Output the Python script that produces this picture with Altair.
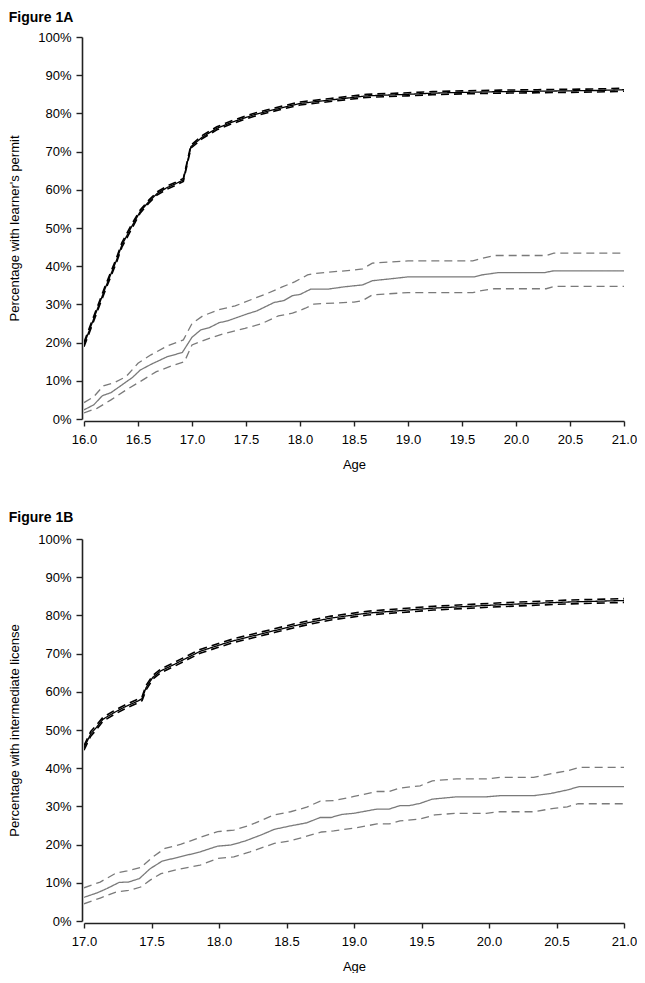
import altair as alt
import pandas as pd

# ---------------- Figure 1A data (age in years, percent) ----------------
A_age_black = [16.0, 16.1, 16.2, 16.3, 16.35, 16.44, 16.52, 16.6, 16.68, 16.77, 16.85, 16.92, 16.99,
               17.1, 17.23, 17.38, 17.57, 17.69, 17.88, 18.0, 18.28, 18.62, 19.0, 19.23, 19.5, 19.85,
               20.2, 20.46, 20.75, 21.0]
A_black = [19.5, 27.0, 34.5, 41.5, 45.5, 50.3, 54.3, 56.9, 59.1, 60.6, 61.6, 62.6, 71.3,
           73.9, 76.1, 77.8, 79.6, 80.5, 81.8, 82.6, 83.5, 84.6, 85.0, 85.3, 85.5, 85.7,
           85.8, 85.9, 86.0, 86.2]
A_black_hi = [20.1, 27.6, 35.1, 42.1, 46.1, 50.9, 54.7, 57.3, 59.5, 61.0, 62.0, 63.0, 71.7,
              74.3, 76.5, 78.2, 80.0, 80.9, 82.2, 83.0, 83.9, 85.0, 85.4, 85.7, 85.9, 86.1,
              86.2, 86.3, 86.4, 86.6]
A_black_lo = [18.9, 26.4, 33.9, 40.9, 44.9, 49.7, 53.9, 56.5, 58.7, 60.2, 61.2, 62.2, 70.9,
              73.5, 75.7, 77.4, 79.2, 80.1, 81.4, 82.2, 83.1, 84.2, 84.6, 84.9, 85.1, 85.3,
              85.4, 85.5, 85.6, 85.8]

A_age_gray = [16.0, 16.09, 16.17, 16.25, 16.37, 16.45, 16.52, 16.62, 16.77, 16.91, 17.0, 17.08,
              17.16, 17.25, 17.33, 17.51, 17.6, 17.76, 17.85, 17.93, 18.0, 18.1, 18.26, 18.41,
              18.58, 18.67, 18.84, 19.0, 19.61, 19.68, 19.83, 20.26, 20.35, 21.0]
A_gray = [2.4, 3.7, 6.1, 6.9, 9.3, 10.9, 12.8, 14.3, 16.3, 17.4, 21.4, 23.3,
          23.9, 25.2, 25.7, 27.5, 28.3, 30.5, 31.0, 32.3, 32.6, 34.0, 34.0, 34.6,
          35.1, 36.2, 36.7, 37.2, 37.2, 37.7, 38.3, 38.3, 38.8, 38.8]

A_age_gray_hi = [16.0, 16.09, 16.18, 16.28, 16.39, 16.5, 16.62, 16.77, 16.92, 17.0, 17.1, 17.26,
                 17.4, 17.58, 17.7, 17.83, 17.95, 18.07, 18.13, 18.5, 18.58, 18.67, 19.0, 19.6,
                 19.68, 19.8, 20.28, 20.35, 21.0]
A_gray_hi = [4.3, 5.8, 8.7, 9.5, 11.1, 14.6, 16.8, 19.1, 20.7, 25.0, 27.0, 28.7,
             29.6, 31.6, 32.9, 34.5, 35.9, 37.7, 38.1, 39.0, 39.3, 40.8, 41.4, 41.4,
             42.0, 42.8, 42.8, 43.4, 43.4]

A_age_gray_lo = [16.0, 16.12, 16.25, 16.39, 16.52, 16.67, 16.83, 16.93, 17.0, 17.16, 17.3, 17.49,
                 17.64, 17.8, 17.93, 18.05, 18.13, 18.5, 18.58, 18.67, 19.0, 19.6, 19.68, 19.8,
                 20.28, 20.35, 21.0]
A_gray_lo = [1.6, 2.8, 5.0, 7.6, 9.8, 12.4, 14.1, 15.0, 19.4, 21.1, 22.4, 23.7,
             24.9, 27.0, 27.7, 29.0, 30.1, 30.6, 31.0, 32.5, 33.1, 33.1, 33.6, 34.1,
             34.1, 34.7, 34.7]

# ---------------- Figure 1B data ----------------
B_age_black = [17.0, 17.05, 17.09, 17.14, 17.22, 17.3, 17.4, 17.43, 17.46, 17.51, 17.57, 17.67,
               17.77, 17.86, 17.99, 18.11, 18.26, 18.41, 18.56, 18.7, 18.83, 19.1, 19.59, 20.09,
               20.58, 21.0]
B_black = [45.3, 49.0, 50.6, 52.8, 54.5, 56.0, 57.6, 58.2, 61.1, 63.8, 65.5, 67.2,
           69.0, 70.6, 72.1, 73.4, 74.7, 76.0, 77.3, 78.4, 79.3, 80.6, 81.9, 82.8,
           83.5, 83.9]
B_black_hi = [45.9, 49.6, 51.2, 53.3, 55.0, 56.5, 58.1, 58.7, 61.7, 64.3, 66.0, 67.7,
              69.5, 71.1, 72.6, 73.9, 75.2, 76.5, 77.8, 78.9, 79.8, 81.1, 82.4, 83.3,
              84.0, 84.4]
B_black_lo = [44.7, 48.4, 50.0, 52.3, 54.0, 55.5, 57.1, 57.7, 60.5, 63.3, 65.0, 66.7,
              68.5, 70.1, 71.6, 72.9, 74.2, 75.5, 76.8, 77.9, 78.8, 80.1, 81.4, 82.3,
              83.0, 83.4]

B_age_gray = [17.0, 17.1, 17.17, 17.26, 17.33, 17.41, 17.49, 17.58, 17.69, 17.86, 17.99, 18.09,
              18.19, 18.31, 18.41, 18.53, 18.65, 18.75, 18.83, 18.91, 19.0, 19.17, 19.26, 19.34,
              19.41, 19.49, 19.58, 19.76, 19.98, 20.08, 20.33, 20.46, 20.58, 20.67, 21.0]
B_gray = [6.2, 7.4, 8.5, 10.1, 10.2, 11.1, 13.7, 15.7, 16.6, 18.1, 19.6, 19.9,
          20.9, 22.5, 24.0, 24.9, 25.7, 27.1, 27.1, 27.9, 28.2, 29.3, 29.3, 30.2,
          30.2, 30.8, 31.9, 32.5, 32.5, 32.8, 32.8, 33.4, 34.3, 35.2, 35.2]

B_age_gray_hi = [17.0, 17.12, 17.24, 17.32, 17.42, 17.51, 17.6, 17.72, 17.86, 17.99, 18.11, 18.23,
                 18.41, 18.53, 18.65, 18.75, 18.85, 19.0, 19.17, 19.26, 19.34, 19.49, 19.58, 19.76,
                 19.98, 20.08, 20.33, 20.48, 20.58, 20.67, 21.0]
B_gray_hi = [8.7, 10.2, 12.6, 13.1, 14.0, 16.8, 19.0, 20.1, 21.9, 23.4, 23.8, 25.1,
             27.8, 28.6, 29.8, 31.4, 31.5, 32.6, 33.9, 33.9, 34.8, 35.4, 36.7, 37.2,
             37.2, 37.6, 37.6, 38.7, 39.3, 40.2, 40.2]

B_age_gray_lo = [17.0, 17.12, 17.24, 17.33, 17.42, 17.49, 17.57, 17.69, 17.86, 17.99, 18.11, 18.23,
                 18.41, 18.53, 18.65, 18.76, 18.85, 19.0, 19.17, 19.26, 19.34, 19.49, 19.6, 19.76,
                 19.98, 20.08, 20.33, 20.48, 20.58, 20.66, 21.0]
B_gray_lo = [4.5, 6.0, 7.6, 8.0, 8.9, 10.7, 12.4, 13.5, 14.6, 16.4, 16.8, 18.1,
             20.3, 21.0, 22.2, 23.3, 23.6, 24.3, 25.4, 25.4, 26.2, 26.7, 27.8, 28.2,
             28.2, 28.6, 28.6, 29.5, 29.9, 30.7, 30.7]

A_xticks = [16.0, 16.5, 17.0, 17.5, 18.0, 18.5, 19.0, 19.5, 20.0, 20.5, 21.0]
B_xticks = [17.0, 17.5, 18.0, 18.5, 19.0, 19.5, 20.0, 20.5, 21.0]
y_ticks = [0.0, 0.1, 0.2, 0.3, 0.4, 0.5, 0.6, 0.7, 0.8, 0.9, 1.0]

FONT = "Liberation Sans"
W, H = 540, 382


def frame(ages, vals):
    return pd.DataFrame({"age": ages, "pct": [v / 100 for v in vals]})


def panel(title, ytitle, xticks, lines, title_offset):
    xdom = [xticks[0], xticks[-1]]
    layers = []
    for ages, vals, color, width, dash in lines:
        mk = alt.Chart(frame(ages, vals)).mark_line(
            color=color, strokeWidth=width, strokeDash=dash, clip=True
        )
        layers.append(mk.encode(
            x=alt.X("age:Q", scale=alt.Scale(domain=xdom, nice=False, zero=False),
                    axis=alt.Axis(values=xticks, format=".1f", title="Age", grid=False,
                                  labelFlush=False, offset=2, tickSize=5,
                                  labelPadding=7, titlePadding=12)),
            y=alt.Y("pct:Q", scale=alt.Scale(domain=[0, 1], nice=False),
                    axis=alt.Axis(values=y_ticks, format=".0%", title=ytitle, grid=False,
                                  labelFlush=False, offset=2, tickSize=6,
                                  labelPadding=5, titlePadding=16)),
        ))
    return alt.layer(*layers).properties(
        width=W, height=H,
        title=alt.TitleParams(text=title, anchor="start", frame="bounds", font=FONT,
                              fontSize=14, fontWeight="bold", color="#000",
                              offset=title_offset),
    )


GRAY = "#7a7a7a"
SOLID = [1, 0]
DASH = [8, 5]
BDASH = [8, 5]

top = panel("Figure 1A", "Percentage with learner's permit", A_xticks, [
    (A_age_gray_hi, A_gray_hi, GRAY, 1.3, DASH),
    (A_age_gray_lo, A_gray_lo, GRAY, 1.3, DASH),
    (A_age_gray, A_gray, GRAY, 1.3, SOLID),
    (A_age_black, A_black_hi, "#000", 1.6, BDASH),
    (A_age_black, A_black_lo, "#000", 1.6, BDASH),
    (A_age_black, A_black, "#000", 1.3, SOLID),
], 6)

bottom = panel("Figure 1B", "Percentage with intermediate license", B_xticks, [
    (B_age_gray_hi, B_gray_hi, GRAY, 1.3, DASH),
    (B_age_gray_lo, B_gray_lo, GRAY, 1.3, DASH),
    (B_age_gray, B_gray, GRAY, 1.3, SOLID),
    (B_age_black, B_black_hi, "#000", 1.6, BDASH),
    (B_age_black, B_black_lo, "#000", 1.6, BDASH),
    (B_age_black, B_black, "#000", 1.3, SOLID),
], 8)

chart = alt.vconcat(top, bottom, spacing=40).properties(
    padding={"top": 3, "left": 0, "right": 0, "bottom": 0}
).configure_view(
    stroke=None
).configure_axis(
    labelFont=FONT, titleFont=FONT, labelFontSize=13, titleFontSize=13,
    titleFontWeight="normal", labelColor="#000", titleColor="#000",
    domainColor="#222", domainWidth=1.6, tickColor="#222", tickWidth=1.4,
)

chart.save("out.html", embed_options={"renderer": "svg", "actions": False})
